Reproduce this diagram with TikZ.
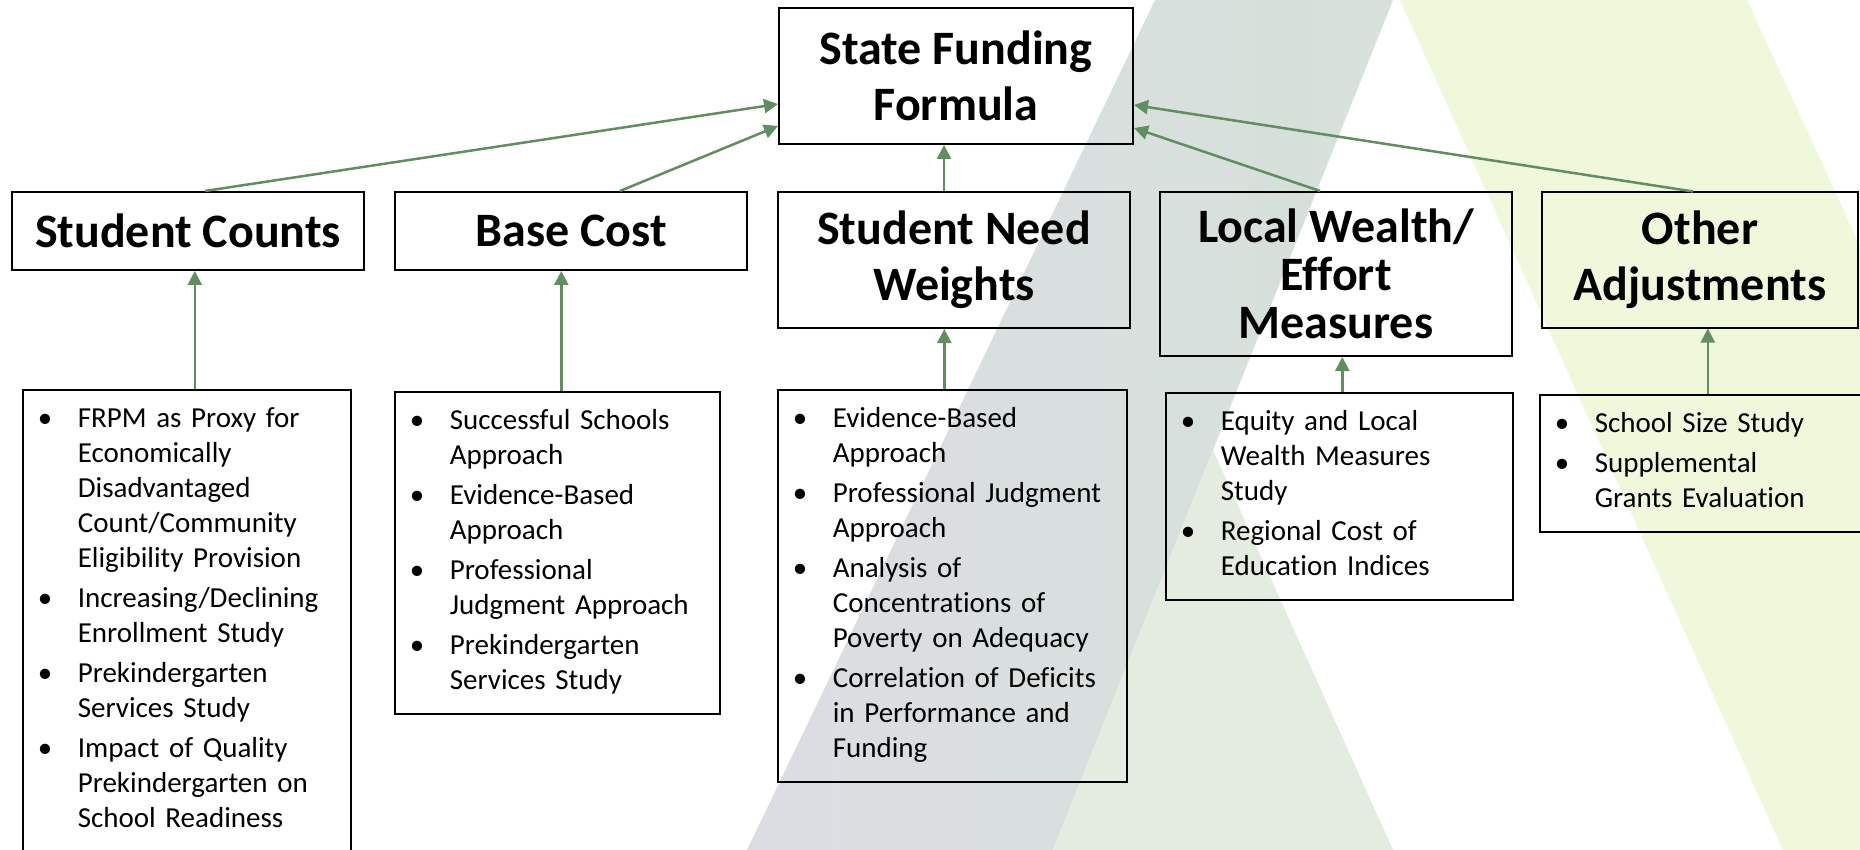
\documentclass[tikz,border=0pt]{standalone}
\usepackage{fontspec}
\setmainfont{Carlito}[Ligatures=CommonOff]
\usetikzlibrary{arrows.meta,calc}
\definecolor{arrowgreen}{RGB}{96,142,96}
\definecolor{legsage}{RGB}{213,225,217}
\definecolor{leglav}{RGB}{220,221,227}
\definecolor{innergreen}{RGB}{228,236,224}
\definecolor{leglime}{RGB}{240,248,220}
\newcommand{\bul}[1]{\parskip=5pt\leftskip=15pt\hangindent=40pt\hangafter=1\noindent\makebox[40pt][l]{\textbullet}\strut#1\strut\par}
\begin{document}
\begin{tikzpicture}[x=1pt,y=-1pt,
	head/.style={draw,line width=2pt,inner sep=0pt,align=center,font=\bfseries\fontsize{48}{56}\selectfont},
	studies/.style={draw,line width=1.6pt,anchor=north west,inner xsep=0pt,inner ysep=13.5pt,align=left,font=\fontsize{29}{35}\selectfont},
	feed/.style={draw=arrowgreen,line width=2.5pt,-{Triangle[length=14pt,width=14pt]}}]
	\useasboundingbox (0,0) rectangle (1860,850);
	\fill[white] (0,0) rectangle (1860,850);
	\clip (0,0) rectangle (1860,850);
	\shade[left color=leglav,right color=legsage] (1155,0) -- (1393,0) -- (1053,850) -- (747,850) -- cycle;
	\fill[innergreen] (1213,450) -- (1393,850) -- (1053,850) -- cycle;
	\fill[leglime] (1400,0) -- (1747,0) -- (2138,850) -- (1783,850) -- cycle;

	\node[head,minimum width=354pt,minimum height=136pt] (formula) at (956,76) {State Funding\\Formula};

	\node[head,minimum width=352pt,minimum height=78pt] (counts) at (188,231) {Student Counts};
	\node[head,minimum width=352pt,minimum height=78pt] (base) at (571,231) {Base Cost};
	\node[head,minimum width=352pt,minimum height=136pt] (need) at (954,260) {Student Need\\Weights};
	\node[head,minimum width=352pt,minimum height=164pt,font=\bfseries\fontsize{48}{48}\selectfont] (wealth) at (1336,274) {Local Wealth/\\Effort\\Measures};
	\node[head,minimum width=316pt,minimum height=135pt] (other) at (1700,260) {Other\\Adjustments};

	\node[studies,text width=328pt] (list counts) at (22,389) {\bul{FRPM as Proxy for\newline Economically\newline Disadvantaged\newline Count/Community\newline Eligibility Provision}\bul{Increasing/Declining\newline Enrollment Study}\bul{Prekindergarten\newline Services Study}\bul{Impact of Quality\newline Prekindergarten on\newline School Readiness}};
	\node[studies,text width=325pt] (list base) at (394,391) {\bul{Successful Schools\newline Approach}\bul{Evidence-Based\newline Approach}\bul{Professional\newline Judgment Approach}\bul{Prekindergarten\newline Services Study}};
	\node[studies,text width=349pt] (list need) at (777,389) {\bul{Evidence-Based\newline Approach}\bul{Professional Judgment\newline Approach}\bul{Analysis of\newline Concentrations of\newline Poverty on Adequacy}\bul{Correlation of Deficits\newline in Performance and\newline Funding}};
	\node[studies,text width=347pt] (list wealth) at (1165,392) {\bul{Equity and Local\newline Wealth Measures\newline Study}\bul{Regional Cost of\newline Education Indices}};
	\node[studies,text width=330pt] (list other) at (1539,394) {\bul{School Size Study}\bul{Supplemental\newline Grants Evaluation}};

	\foreach \nm/\dx in {counts/8,base/4,need/-8,wealth/3,other/3}{
		\coordinate (foot \nm) at ($(list \nm.north)+(\dx,0)$);
		\draw[feed] (foot \nm) -- (foot \nm |- \nm.south);
	}

	\coordinate (need top) at ($(need.north)+(-10,0)$);
	\draw[feed] ($(counts.north)+(17,0)$) -- ($(formula.west)+(0,28)$);
	\draw[feed] ($(base.north)+(49,0)$) -- ($(formula.west)+(0,50)$);
	\draw[feed] (need top) -- (need top |- formula.south);
	\draw[feed] ($(wealth.north)+(-16,0)$) -- ($(formula.east)+(0,52)$);
	\draw[feed] ($(other.north)+(-7,0)$) -- ($(formula.east)+(0,29)$);
\end{tikzpicture}
\end{document}
